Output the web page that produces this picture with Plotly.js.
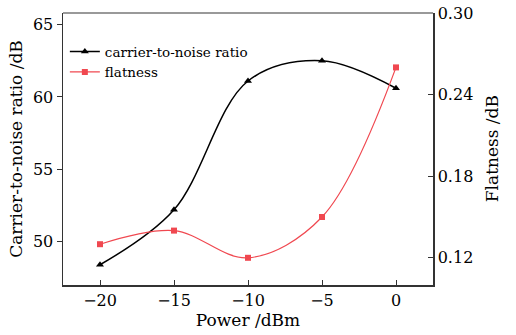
<!DOCTYPE html>
<html>
<head>
<meta charset="utf-8">
<script src="https://cdn.plot.ly/plotly-3.0.1.min.js"></script>
<style>html,body{margin:0;padding:0;background:#fff;}#chart{width:516px;height:335px;}</style>
</head>
<body>
<div id="chart"></div>
<script>
const power = [-20, -15, -10, -5, 0];
const cnr = [48.4, 52.2, 61.1, 62.5, 60.6];
const flatness = [0.130, 0.140, 0.120, 0.150, 0.260];
const xTicks = [-20, -15, -10, -5, 0];
const yTicks = [50, 55, 60, 65];
const y2Ticks = [0.12, 0.18, 0.24, 0.30];

const font = "'DejaVu Serif', 'Liberation Serif', serif";
const axisColor = '#333';

const traces = [
  {
    x: power, y: cnr, name: 'carrier-to-noise ratio', type: 'scatter', mode: 'lines+markers',
    line: {color: '#000', width: 1.5, shape: 'spline', smoothing: 1},
    marker: {symbol: 'triangle-up', size: 7, color: '#000'}
  },
  {
    x: power, y: flatness, name: 'flatness', type: 'scatter', mode: 'lines+markers', yaxis: 'y2',
    line: {color: '#f04850', width: 1.2, shape: 'spline', smoothing: 1},
    marker: {symbol: 'square', size: 6, color: '#f04850'}
  }
];

const layout = {
  width: 516, height: 335,
  margin: {l: 63, r: 83, t: 13, b: 50},
  paper_bgcolor: '#fff', plot_bgcolor: '#fff',
  font: {family: font, color: '#000', size: 16},
  showlegend: true,
  legend: {x: 0.005, y: 0.915, xanchor: 'left', yanchor: 'top', font: {size: 13.5, family: font},
           bgcolor: 'rgba(0,0,0,0)', tracegroupgap: 0, itemwidth: 30},
  xaxis: {
    range: [-22.5, 2.5], tickvals: xTicks, ticktext: xTicks.map(v => v < 0 ? '\u2212' + Math.abs(v) : String(v)),
    ticks: 'inside', ticklen: 5, tickcolor: axisColor, showline: true, linecolor: axisColor, linewidth: 1.5,
    showgrid: false, zeroline: false,
    title: {text: 'Power /dBm', font: {size: 17, family: font}, standoff: 2},
    tickfont: {size: 16, family: font}
  },
  yaxis: {
    range: [47, 65.8], tickvals: yTicks, ticks: 'outside', ticklen: 5, tickcolor: axisColor,
    showline: true, linecolor: axisColor, linewidth: 1.5, showgrid: false, zeroline: false,
    title: {text: 'Carrier-to-noise ratio /dB', font: {size: 17, family: font}, standoff: 6},
    tickfont: {size: 16, family: font}
  },
  yaxis2: {
    overlaying: 'y', side: 'right', range: [0.10, 0.30], tickvals: y2Ticks,
    ticktext: y2Ticks.map(v => v.toFixed(2)),
    ticks: 'inside', ticklen: 5, tickcolor: axisColor, showline: true, linecolor: axisColor, linewidth: 1.5,
    showgrid: false, zeroline: false, tickfont: {size: 16, family: font}
  },
  shapes: [
    {type: 'line', xref: 'paper', yref: 'paper', x0: 0, x1: 1, y0: 1, y1: 1, line: {color: '#777', width: 1.5}}
  ],
  annotations: [
    {text: 'Flatness /dB', xref: 'paper', yref: 'paper', x: 1.16, y: 0.5, textangle: -90,
     showarrow: false, xanchor: 'center', yanchor: 'middle', font: {size: 17, family: font}}
  ]
};

Plotly.newPlot('chart', traces, layout, {displayModeBar: false, staticPlot: true});
</script>
</body>
</html>
